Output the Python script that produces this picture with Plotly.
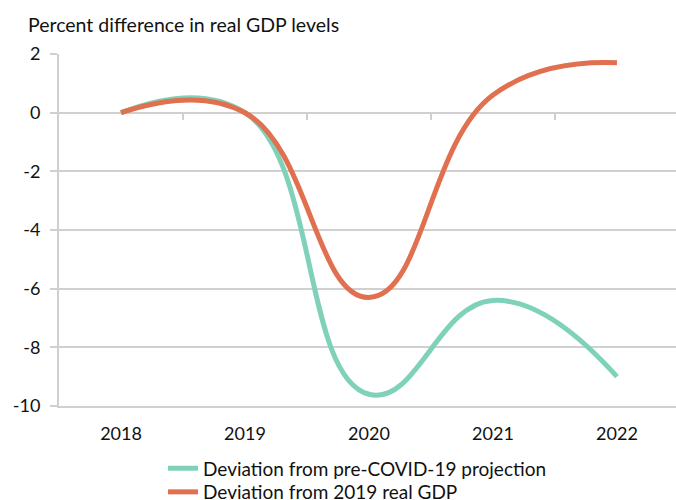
import plotly.graph_objects as go

years = ["2018", "2019", "2020", "2021", "2022"]
dev_precovid = [0.0, 0.0, -9.6, -6.4, -9.0]
dev_2019 = [0.0, 0.0, -6.3, 0.6, 1.7]
y_ticks = [2, 0, -2, -4, -6, -8, -10]
y_ticktext = [str(v) for v in y_ticks]

TEAL = "#7FD2B9"
ORANGE = "#E0704F"
GRID = "#D0D0D0"
FONT = "Lato"
TXT = "#111111"

fig = go.Figure()
fig.add_trace(go.Scatter(x=years, y=dev_precovid, mode="lines",
                         name="Deviation from pre-COVID-19 projection", legend="legend",
                         line=dict(color=TEAL, width=5, shape="spline", smoothing=1.3)))
fig.add_trace(go.Scatter(x=years, y=dev_2019, mode="lines",
                         name="Deviation from 2019 real GDP", legend="legend2",
                         line=dict(color=ORANGE, width=5, shape="spline", smoothing=1.3)))
# carrier for the boundary tick marks drawn on the zero line
fig.add_trace(go.Scatter(x=years, y=[None] * len(years), xaxis="x2", mode="lines",
                         showlegend=False, hoverinfo="skip"))

xr = [-0.5, 4.476]
leg_common = dict(orientation="v", xref="container", yref="container", x=163/676, xanchor="left",
                  yanchor="top", bgcolor="rgba(0,0,0,0)", font=dict(size=19), maxheight=200)
fig.update_layout(
    width=676, height=500,
    margin=dict(l=59, r=0, t=53.5, b=93.5, autoexpand=False),
    paper_bgcolor="white", plot_bgcolor="white",
    font=dict(family=FONT, size=19, color=TXT),
    title=dict(text="Percent difference in real GDP levels", xref="container", yref="container",
               x=28/676, xanchor="left", y=1-25/500, yanchor="middle",
               font=dict(family=FONT, size=19.5, color=TXT)),
    xaxis=dict(type="category", range=xr, showgrid=False, showline=True, linecolor=GRID, linewidth=2,
               ticks="", ticklabelstandoff=10, tickfont=dict(size=18)),
    xaxis2=dict(overlaying="x", anchor="free", position=10/12, range=xr, type="category",
                tickvals=[0.5, 1.5, 2.5, 3.5], ticks="outside", ticklen=6, tickwidth=2,
                tickcolor=GRID, showticklabels=False, showline=False, showgrid=False, zeroline=False),
    yaxis=dict(range=[-10, 2], tickvals=y_ticks, ticktext=y_ticktext, showgrid=True,
               gridcolor=GRID, gridwidth=2,
               zeroline=False, showline=True, linecolor=GRID, linewidth=2,
               ticks="outside", ticklen=7, tickwidth=2, tickcolor=GRID, ticklabelstandoff=6,
               tickfont=dict(size=18)),
    legend=dict(leg_common, y=1-449.5/500),
    legend2=dict(leg_common, y=1-473/500),
    showlegend=True,
)
fig.write_html("out.html", config={"displayModeBar": False},
               post_script="document.body.style.margin='0';document.body.style.overflow='hidden';")
